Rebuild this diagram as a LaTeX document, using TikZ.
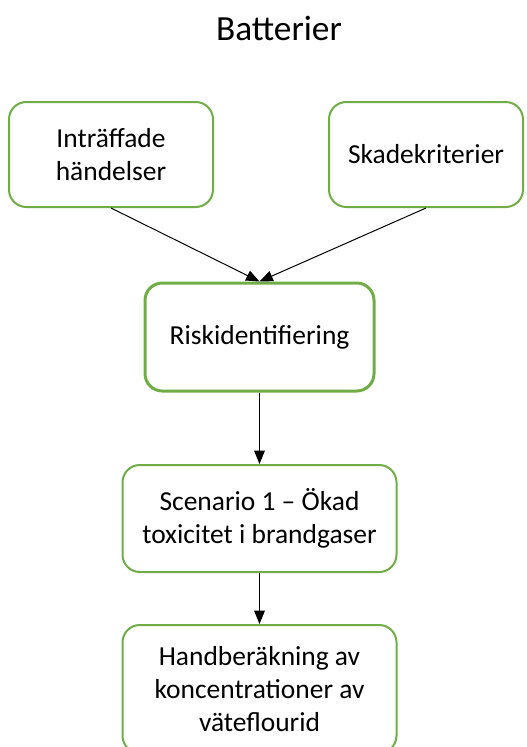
\documentclass[tikz,border=0pt]{standalone}
\usepackage{fontspec}
\setmainfont{Carlito}
\usetikzlibrary{arrows.meta}
\definecolor{boxgreen}{HTML}{70AD47}
\tikzset{
  box/.style={draw=boxgreen, line width=1.5pt, rounded corners=13pt, fill=white,
    align=center, inner sep=0pt, font=\fontsize{20.6}{25}\selectfont},
  conn/.style={draw=black, line width=0.75pt, -{Triangle[length=10pt,width=8pt]}}
}
\begin{document}
\begin{tikzpicture}[x=0.75pt,y=-0.75pt]
\useasboundingbox (0,0) rectangle (526,747);
\clip (0,0) rectangle (526,747);
\node[font=\fontsize{26.5}{31}\selectfont] (title) at (279,28) {Batterier};
\node[box, minimum width=153pt, minimum height=78.75pt] (A) at (111,154.5) {Inträffade\\händelser};
\node[box, minimum width=145.5pt, minimum height=78.75pt] (B) at (426,154.5) {Skadekriterier};
\node[box, line width=2.25pt, minimum width=171.75pt, minimum height=81pt] (C) at (259.5,337) {Riskidentifiering};
\node[box, minimum width=205.5pt, minimum height=80.25pt] (D) at (259.5,518.5) {Scenario 1 – Ökad\\toxicitet i brandgaser};
\node[box, minimum width=205.5pt, minimum height=96pt] (E) at (259.5,689) {Handberäkning av\\koncentrationer av\\väteflourid};
\draw[conn] (A.south) -- (C.north);
\draw[conn] (B.south) -- (C.north);
\draw[conn] (C.south) -- (D.north);
\draw[conn] (D.south) -- (E.north);
\end{tikzpicture}
\end{document}
